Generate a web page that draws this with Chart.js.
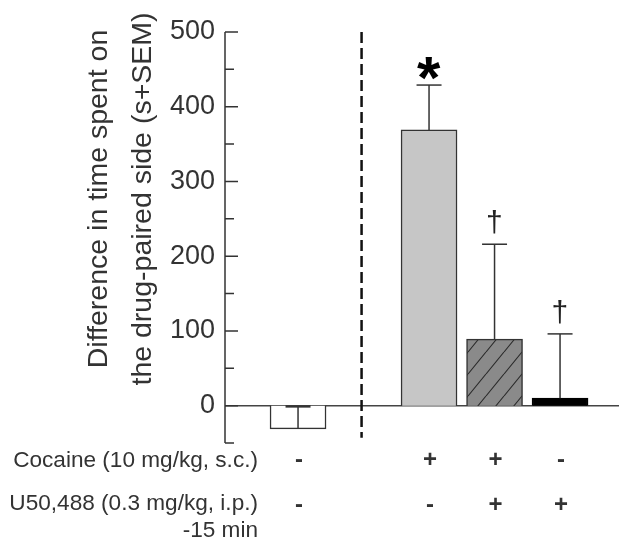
<!DOCTYPE html>
<html>
<head>
<meta charset="utf-8">
<script src="https://cdn.jsdelivr.net/npm/chart.js@4"></script>
<style>
  html, body { margin: 0; padding: 0; background: #fff; }
</style>
</head>
<body>
<canvas id="cppChart" width="624" height="546"></canvas>
<script>
// slot 1 is left empty, the dashed divider sits there
const groupPos = [0, 2, 3, 4];
const meanDiff = [-31, 369, 89, 10];
const semUp = [30, 60, 127, 86];
const sigMarks = ["", "*", "\u2020", "\u2020"];
const cocaineRow = ["-", "+", "+", "-"];
const u50Row = ["-", "-", "+", "+"];
const rowLabels = ["Cocaine (10 mg/kg, s.c.)", "U50,488 (0.3 mg/kg, i.p.)", "-15 min"];
const yTitle = ["Difference in time spent on", "the drug-paired side (s+SEM)"];

const FONT = "'Liberation Sans', Arial, sans-serif";
const INK = "#333";

function hatchPattern() {
  const c = document.createElement("canvas");
  c.width = 18; c.height = 22;
  const g = c.getContext("2d");
  g.fillStyle = "#8a8a8a";
  g.fillRect(0, 0, 18, 22);
  g.strokeStyle = "#2a2a2a";
  g.lineWidth = 1.1;
  g.beginPath();
  g.moveTo(0, 22); g.lineTo(18, 0);
  g.moveTo(-18, 22); g.lineTo(0, 0);
  g.moveTo(18, 22); g.lineTo(36, 0);
  g.stroke();
  return g.createPattern(c, "repeat");
}

function drawGlyph(ctx, ch, cx, cy) {
  ctx.textAlign = "left";
  ctx.textBaseline = "alphabetic";
  const m = ctx.measureText(ch);
  const w = m.actualBoundingBoxRight + m.actualBoundingBoxLeft;
  const h = m.actualBoundingBoxAscent + m.actualBoundingBoxDescent;
  ctx.fillText(ch, cx - w / 2 + m.actualBoundingBoxLeft, cy - h / 2 + m.actualBoundingBoxAscent);
}

const decor = {
  id: "decor",
  beforeDatasetsDraw(chart) {
    const { ctx, chartArea, scales: { y } } = chart;
    const y0 = y.getPixelForValue(0);
    ctx.save();
    ctx.strokeStyle = "#444";
    ctx.lineWidth = 1.5;
    ctx.beginPath();
    ctx.moveTo(chartArea.left, y0);
    ctx.lineTo(chartArea.right, y0);
    ctx.stroke();
    ctx.restore();
  },
  afterDatasetsDraw(chart) {
    const { ctx, chartArea, scales: { x, y } } = chart;
    ctx.save();

    // y axis line + inward ticks
    ctx.strokeStyle = INK;
    ctx.lineWidth = 1.5;
    ctx.beginPath();
    ctx.moveTo(chartArea.left, chartArea.top);
    ctx.lineTo(chartArea.left, chartArea.bottom);
    for (let v = -50; v <= 500; v += 50) {
      const py = y.getPixelForValue(v);
      const len = v % 100 === 0 ? 13 : 9;
      ctx.moveTo(chartArea.left, py);
      ctx.lineTo(chartArea.left + len, py);
    }
    ctx.stroke();

    // error bars (SEM, upward)
    groupPos.forEach((gx, i) => {
      const px = x.getPixelForValue(gx);
      const yb = y.getPixelForValue(meanDiff[i]);
      const yt = y.getPixelForValue(meanDiff[i] + semUp[i]);
      ctx.strokeStyle = INK;
      ctx.lineWidth = 1.5;
      ctx.beginPath();
      ctx.moveTo(px, yb);
      ctx.lineTo(px, yt);
      ctx.stroke();
      ctx.lineWidth = i === 0 ? 2.5 : 1.5;
      ctx.beginPath();
      ctx.moveTo(px - 12.5, yt);
      ctx.lineTo(px + 12.5, yt);
      ctx.stroke();

      if (sigMarks[i] === "*") {
        ctx.fillStyle = "#000";
        ctx.font = "bold 60px " + FONT;
        drawGlyph(ctx, "*", px, yt - 17);
      } else if (sigMarks[i]) {
        ctx.fillStyle = "#222";
        ctx.font = "30px " + FONT;
        drawGlyph(ctx, sigMarks[i], px, yt - 22);
      }
    });

    // dashed divider
    const dx = x.getPixelForValue(0.97);
    ctx.strokeStyle = "#111";
    ctx.lineWidth = 2.5;
    ctx.setLineDash([11, 5]);
    ctx.beginPath();
    ctx.moveTo(dx, chartArea.top);
    ctx.lineTo(dx, y.getPixelForValue(-43));
    ctx.stroke();
    ctx.setLineDash([]);

    // y title, two rotated lines
    ctx.fillStyle = INK;
    ctx.font = "28.5px " + FONT;
    ctx.textAlign = "center";
    ctx.textBaseline = "middle";
    yTitle.forEach((t, k) => {
      ctx.save();
      ctx.translate(99 + k * 44, 199);
      ctx.rotate(-Math.PI / 2);
      ctx.fillText(t, 0, 0);
      ctx.restore();
    });

    // treatment table under the plot
    ctx.font = "22.6px " + FONT;
    ctx.textAlign = "right";
    ctx.fillText(rowLabels[0], 258, 461);
    ctx.fillText(rowLabels[1], 258, 504);
    ctx.fillText(rowLabels[2], 258, 531);
    ctx.font = "bold 24px " + FONT;
    ctx.textAlign = "center";
    groupPos.forEach((gx, i) => {
      const px = x.getPixelForValue(gx);
      ctx.fillText(cocaineRow[i], px + 1, 460);
      ctx.fillText(u50Row[i], px + 1, 505);
    });

    ctx.restore();
  }
};

const ctx = document.getElementById("cppChart").getContext("2d");

new Chart(ctx, {
  type: "bar",
  data: {
    datasets: [{
      data: groupPos.map((gx, i) => ({ x: gx, y: meanDiff[i] })),
      backgroundColor: ["#ffffff", "#c6c6c6", hatchPattern(), "#000000"],
      borderColor: ["#333", "#333", "#333", "#000"],
      borderWidth: 1.5,
      barThickness: 56
    }]
  },
  options: {
    responsive: false,
    animation: false,
    layout: { padding: { top: 32, right: 5, bottom: 103, left: 0 } },
    plugins: {
      legend: { display: false },
      tooltip: { enabled: false }
    },
    scales: {
      x: {
        type: "linear",
        min: -1.115,
        max: 4.9,
        offset: false,
        display: false
      },
      y: {
        min: -50,
        max: 500,
        afterFit(scale) { scale.width = 225; },
        grid: { display: false, drawTicks: false },
        border: { display: false },
        ticks: {
          stepSize: 50,
          autoSkip: false,
          padding: 10,
          color: INK,
          font: { family: FONT, size: 27 },
          callback: v => (v % 100 === 0 ? v : "")
        }
      }
    }
  },
  plugins: [decor]
});
</script>
</body>
</html>
